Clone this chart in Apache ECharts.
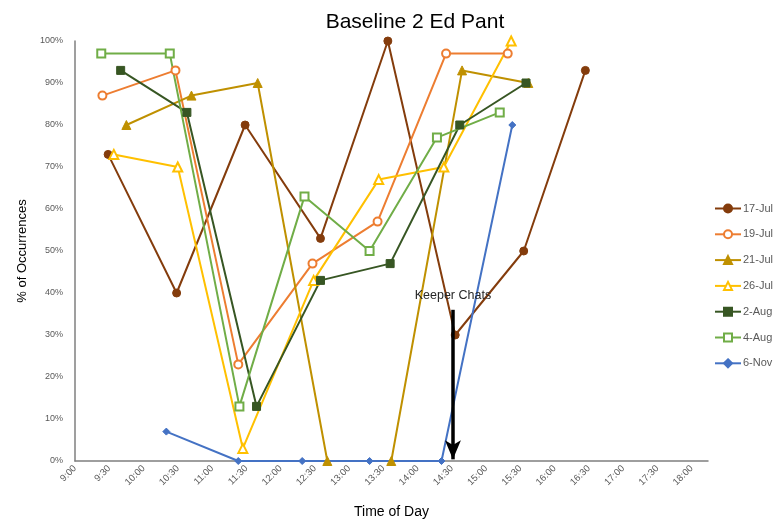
<!DOCTYPE html>
<html>
<head>
<meta charset="utf-8">
<script src="https://cdn.jsdelivr.net/npm/echarts@6/dist/echarts.min.js"></script>
<style>html,body{margin:0;padding:0;background:#fff}#c{width:779px;height:524px}</style>
</head>
<body>
<div id="c"></div>
<script>
// ---- data (times as H:MM, values in %) ----
const seriesNames = ['17-Jul', '19-Jul', '21-Jul', '26-Jul', '2-Aug', '4-Aug', '6-Nov'];

const jul17Times = ['9:29', '10:29', '11:29', '12:35', '13:34', '14:33', '15:33', '16:27'];
const jul17Values = [73, 40, 80, 53, 100, 30, 50, 93];

const jul19Times = ['9:24', '10:28', '11:23', '12:28', '13:25', '14:25', '15:19'];
const jul19Values = [87, 93, 23, 47, 57, 97, 97];

const jul21Times = ['9:45', '10:42', '11:40', '12:41', '13:37', '14:39', '15:37'];
const jul21Values = [80, 87, 90, 0, 0, 93, 90];

const jul26Times = ['9:34', '10:30', '11:27', '12:29', '13:26', '14:23', '15:22'];
const jul26Values = [73, 70, 3, 43, 67, 70, 100];

const aug2Times = ['9:40', '10:38', '11:39', '12:35', '13:36', '14:37', '15:35'];
const aug2Values = [93, 83, 13, 43, 47, 80, 90];

const aug4Times = ['9:23', '10:23', '11:24', '12:21', '13:18', '14:17', '15:12'];
const aug4Values = [97, 97, 13, 63, 50, 77, 83];

const nov6Times = ['10:20', '11:23', '12:19', '13:18', '14:21', '15:23'];
const nov6Values = [7, 0, 0, 0, 0, 80];

const annotationText = 'Keeper Chats';
const annotationTime = '14:31';
const annotationTop = 36;

const axisMinTime = '9:00';
const axisMaxMinutes = 1094.4; // Excel-like auto max (0.76 day)

// ---- helpers ----
function toMin(t) { const p = t.split(':'); return (+p[0]) * 60 + (+p[1]); }
function pairs(times, vals) { return times.map((t, i) => [toMin(t), vals[i]]); }
function fmtTime(v) {
  if (Math.abs(v % 30) > 1e-6) return '';
  const h = Math.floor(v / 60), m = Math.round(v % 60);
  return h + ':' + (m < 10 ? '0' : '') + m;
}

const allTimes = [jul17Times, jul19Times, jul21Times, jul26Times, aug2Times, aug4Times, nov6Times];
const allValues = [jul17Values, jul19Values, jul21Values, jul26Values, aug2Values, aug4Values, nov6Values];
const colors = ['#843C0C', '#ED7D31', '#BF9000', '#FFC000', '#375623', '#70AD47', '#4472C4'];
const symbols = ['circle', 'emptyCircle', 'triangle', 'emptyTriangle', 'rect', 'emptyRect', 'diamond'];
const sizes = [8, 8, 9, 9, 8, 8, 7];

const series = seriesNames.map((n, i) => ({
  name: n,
  type: 'line',
  data: pairs(allTimes[i], allValues[i]),
  symbol: symbols[i],
  symbolSize: sizes[i],
  showAllSymbol: true,
  lineStyle: { color: colors[i], width: 2 },
  itemStyle: { color: colors[i], borderColor: colors[i], borderWidth: 1 },
  emphasis: { disabled: true },
  z: 3
}));

series.push({
  name: 'annotation',
  type: 'line',
  data: [],
  silent: true,
  markLine: {
    silent: true,
    symbol: ['none', 'arrow'],
    symbolSize: [12, 19],
    lineStyle: { color: '#000', width: 3.5, type: 'solid' },
    label: {
      show: true, position: 'start', formatter: annotationText,
      color: '#262626', fontSize: 12.5, fontFamily: 'Liberation Sans', distance: 8
    },
    data: [[
      { coord: [toMin(annotationTime), annotationTop] },
      { coord: [toMin(annotationTime), 0.4] }
    ]]
  },
  z: 5
});

const chart = echarts.init(document.getElementById('c'), null, { renderer: 'canvas' });
chart.setOption({
  animation: false,
  backgroundColor: '#fff',
  title: {
    text: 'Baseline 2 Ed Pant',
    left: 410, top: 7, textAlign: 'center',
    textStyle: { fontFamily: 'Liberation Sans', fontSize: 21, fontWeight: 'normal', color: '#000' }
  },
  legend: {
    data: seriesNames,
    orient: 'vertical',
    left: 709, top: 198,
    itemWidth: 26, itemHeight: 10, itemGap: 14.8,
    textStyle: { color: '#595959', fontSize: 11, fontFamily: 'Liberation Sans', padding: [0, 0, 0, -3] },
    selectedMode: false
  },
  grid: { left: 75, right: 71, top: 41, bottom: 59, containLabel: false },
  xAxis: {
    type: 'value',
    min: toMin(axisMinTime), max: axisMaxMinutes, interval: 30,
    name: 'Time of Day', nameLocation: 'middle', nameGap: 44,
    nameTextStyle: { fontFamily: 'Liberation Sans', fontSize: 14, color: '#000' },
    axisLine: { show: true, lineStyle: { color: '#7f7f7f', width: 1.5 } },
    axisTick: { show: false },
    splitLine: { show: false },
    axisLabel: {
      rotate: 45, formatter: fmtTime, color: '#595959', fontSize: 9.5,
      fontFamily: 'Liberation Sans', margin: 6, showMaxLabel: false
    }
  },
  yAxis: {
    type: 'value', min: 0, max: 100, interval: 10,
    name: '% of Occurrences', nameLocation: 'middle', nameGap: 46,
    nameTextStyle: { fontFamily: 'Liberation Sans', fontSize: 13, color: '#000' },
    axisLine: { show: true, lineStyle: { color: '#7f7f7f', width: 1.5 } },
    axisTick: { show: false },
    splitLine: { show: false },
    axisLabel: { formatter: '{value}%', color: '#595959', fontSize: 9, fontFamily: 'Liberation Sans', margin: 12 }
  },
  series: series
});
</script>
</body>
</html>
